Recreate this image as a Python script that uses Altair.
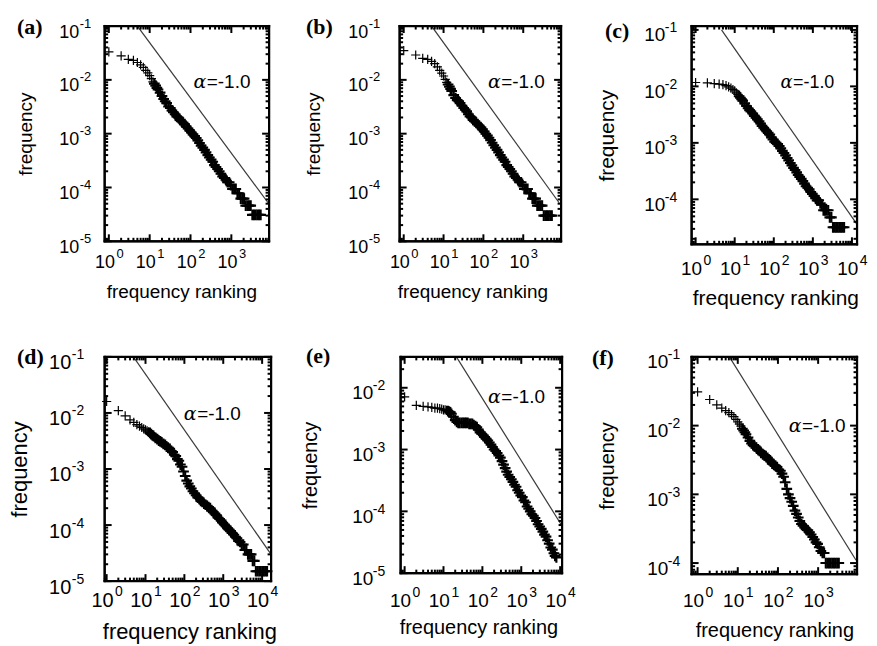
import altair as alt
import pandas as pd

# ---------------- data (rank, relative frequency) ----------------
rank_a = [1, 2, 3, 4, 5, 6, 7, 8, 9, 10, 11, 12, 13, 14,
          15, 16, 18, 20, 22, 24, 26, 29, 32, 35, 38, 42, 46, 50, 55, 60, 66, 72, 79, 87, 95,
          105, 115, 126, 138, 151, 166, 182, 200, 220, 240, 265, 290, 320, 350, 385, 420, 460,
          505, 555, 610, 670, 735, 805, 885, 970, 1065, 1170, 1285, 1410, 1550, 1700, 1870,
          2050, 2250, 2470, 2710, 2980, 3270, 3590, 3940, 4330, 4750, 5220]
freq_a = [0.033, 0.028, 0.024, 0.023, 0.021, 0.019, 0.017, 0.015, 0.0135, 0.012, 0.0105, 0.0092, 0.0085, 0.0078,
          0.0071, 0.0066, 0.0058, 0.005, 0.0044, 0.004, 0.0037, 0.0032, 0.003, 0.0027, 0.0025, 0.0023, 0.0021, 0.002,
          0.0018, 0.0017, 0.0016, 0.0015, 0.00135, 0.00125, 0.00115,
          0.00105, 0.00097, 0.0009, 0.00083, 0.00075, 0.00067, 0.0006, 0.00055, 0.0005, 0.00045, 0.0004, 0.00036,
          0.00033, 0.0003, 0.00026, 0.00024, 0.00022,
          0.0002, 0.00018, 0.00016, 0.00015, 0.00014, 0.000125, 0.000125, 0.00011, 0.000094, 0.000094, 0.000094,
          0.000078, 0.000078, 0.000062, 0.000062,
          0.000062, 0.000046, 0.000046, 0.000046, 0.000046, 0.000031, 0.000031, 0.000031, 0.000031, 0.000031,
          0.000031]

rank_b = rank_a
freq_b = [0.035, 0.029, 0.025, 0.024, 0.022, 0.02, 0.0175, 0.015, 0.0133, 0.0118, 0.0102, 0.009, 0.0082, 0.0075,
          0.0068, 0.0062, 0.0052, 0.0046, 0.0042, 0.004, 0.0037, 0.0033, 0.003, 0.0028, 0.0026, 0.0023, 0.0021, 0.002,
          0.0018, 0.0017, 0.0016, 0.0015, 0.0014, 0.0013, 0.0012,
          0.0011, 0.001, 0.00092, 0.00084, 0.00076, 0.00068, 0.00061, 0.00055, 0.0005, 0.00045, 0.0004, 0.00036,
          0.00033, 0.0003, 0.00026, 0.00024, 0.00022,
          0.0002, 0.00018, 0.00016, 0.00015, 0.00014, 0.000125, 0.000125, 0.00011, 0.000094, 0.000094, 0.000094,
          0.000078, 0.000078, 0.000062, 0.000062,
          0.000062, 0.000046, 0.000046, 0.000046, 0.000046, 0.00003, 0.00003, 0.00003, 0.00003, 0.00003,
          0.00003]

rank_c = [1, 2, 3, 4, 5, 6, 7, 8, 9, 10, 11, 12, 13, 14,
          15, 16, 18, 20, 22, 24, 26, 29, 32, 35, 38, 42, 46, 50, 55, 60, 66, 72, 79, 87, 95,
          105, 115, 126, 138, 151, 166, 182, 200, 220, 240, 265, 290, 320, 350, 385, 420, 460,
          505, 555, 610, 670, 735, 805, 885, 970, 1065, 1170, 1285, 1410, 1550, 1700, 1870,
          2050, 2250, 2470, 2710, 2980, 3270, 3590, 3940, 4330, 4750, 5220, 5740, 6300]
freq_c = [0.0117, 0.0115, 0.0112, 0.011, 0.0107, 0.0103, 0.0098, 0.0093, 0.0088, 0.0083, 0.0077, 0.0072, 0.0067, 0.0063,
          0.0059, 0.0056, 0.005, 0.0045, 0.0041, 0.0038, 0.0036, 0.0033, 0.003, 0.0028, 0.0026, 0.0024, 0.0022, 0.002,
          0.00185, 0.00172, 0.0016, 0.0015, 0.0014, 0.00125, 0.00115,
          0.00105, 0.001, 0.00095, 0.00088, 0.0008, 0.00072, 0.00066, 0.0006, 0.00054, 0.00049, 0.00044, 0.0004,
          0.00036, 0.00033, 0.0003, 0.00027, 0.00025,
          0.00023, 0.00021, 0.00019, 0.00017, 0.00016, 0.00015, 0.000135, 0.000125, 0.000115, 0.000105, 0.000096,
          0.000096, 0.000085, 0.00008, 0.000064,
          0.000064, 0.000064, 0.000064, 0.000048, 0.000048, 0.000032, 0.000032, 0.000032, 0.000032, 0.000032,
          0.000032, 0.000032, 0.000032]

rank_d = [1, 2, 3, 4, 5, 6, 7, 8, 9, 10, 11, 12, 13, 14,
          15, 16, 18, 20, 22, 24, 26, 29, 32, 35, 38, 42, 46, 50, 55, 60, 66, 72, 79, 87, 95,
          105, 115, 126, 138, 151, 166, 182, 200, 220, 240, 265, 290, 320, 350, 385, 420, 460,
          505, 555, 610, 670, 735, 805, 885, 970, 1065, 1170, 1285, 1410, 1550, 1700, 1870,
          2050, 2250, 2470, 2710, 2980, 3270, 3590, 3940, 4330, 4750, 5220, 5740, 6300,
          6900, 7600, 8400, 9200, 10100, 11100, 12200, 13400]
freq_d = [0.016, 0.011, 0.0089, 0.0075, 0.0068, 0.0062, 0.0058, 0.0055, 0.0052, 0.005, 0.0048, 0.0046, 0.0044, 0.0042,
          0.004, 0.0039, 0.0036, 0.0034, 0.0032, 0.0031, 0.003, 0.0028, 0.0027, 0.0025, 0.0024, 0.0023, 0.0021, 0.002,
          0.0018, 0.0017, 0.0015, 0.0014, 0.0012, 0.0011, 0.0009,
          0.00075, 0.00062, 0.00055, 0.00049, 0.00045, 0.0004, 0.00037, 0.00034, 0.00031, 0.0003, 0.00027, 0.00026,
          0.00024, 0.00023, 0.00022, 0.00021, 0.0002,
          0.00018, 0.00017, 0.00016, 0.00015, 0.000135, 0.000128, 0.00012, 0.00011, 0.000102, 0.000095, 0.000088,
          0.000083, 0.000078, 0.000072, 0.000067,
          0.000062, 0.000058, 0.000052, 0.00005, 0.000045, 0.000045, 0.000036, 0.000036, 0.00003, 0.00003,
          0.00003, 0.000023, 0.000023,
          0.000015, 0.000015, 0.000015, 0.000015, 0.000015, 0.000015, 0.000015, 0.000015]

rank_e = [1, 2, 3, 4, 5, 6, 7, 8, 9, 10, 11, 12, 13, 14,
          15, 16, 18, 20, 22, 24, 26, 29, 32, 35, 38, 42, 46, 50, 55, 60, 66, 72, 79, 87, 95,
          105, 115, 126, 138, 151, 166, 182, 200, 220, 240, 265, 290, 320, 350, 385, 420, 460,
          505, 555, 610, 670, 735, 805, 885, 970, 1065, 1170, 1285, 1410, 1550, 1700, 1870,
          2050, 2250, 2470, 2710, 2980, 3270, 3590, 3940, 4330, 4750, 5220, 5740, 6300,
          6900, 7400, 8000]
freq_e = [0.0071, 0.0052, 0.005, 0.0049, 0.0048, 0.0047, 0.0047, 0.0046, 0.0045, 0.0044, 0.0044, 0.0043, 0.0042, 0.0041,
          0.004, 0.0038, 0.0034, 0.003, 0.0028, 0.0027, 0.0027, 0.0027, 0.0027, 0.0027, 0.0027, 0.0027, 0.0026, 0.0026,
          0.0026, 0.0025, 0.0024, 0.0023, 0.0021, 0.0019, 0.0018,
          0.0017, 0.0016, 0.0015, 0.0014, 0.0013, 0.0012, 0.0011, 0.001, 0.00095, 0.00088, 0.0008, 0.00074,
          0.00065, 0.00057, 0.0005, 0.00044, 0.00039,
          0.00036, 0.00033, 0.0003, 0.00027, 0.00025, 0.00022, 0.0002, 0.00018, 0.00017, 0.00015, 0.00014,
          0.00012, 0.00011, 0.0001, 0.00009,
          0.000085, 0.000078, 0.00007, 0.000062, 0.000057, 0.000052, 0.000047, 0.000042, 0.000039, 0.000034,
          0.00003, 0.000026, 0.000024,
          0.000021, 0.000019, 0.000018]

rank_f = [1, 2, 3, 4, 5, 6, 7, 8, 9, 10, 11, 12, 13, 14,
          15, 16, 18, 20, 22, 24, 26, 29, 32, 35, 38, 42, 46, 50, 55, 60, 66, 72, 79, 87, 95,
          105, 115, 126, 138, 151, 166, 182, 200, 220, 240, 265, 290, 320, 350, 385, 420, 460,
          505, 555, 610, 670, 735, 805, 885, 970, 1065, 1170, 1285, 1410, 1550, 1700, 1870,
          2050, 2250, 2470, 2710, 2980, 3270]
freq_f = [0.031, 0.024, 0.02, 0.018, 0.0165, 0.0155, 0.0145, 0.0135, 0.0123, 0.0113, 0.0105, 0.0098, 0.009, 0.0085,
          0.008, 0.0075, 0.0067, 0.006, 0.0055, 0.0052, 0.005, 0.0048, 0.0045, 0.0043, 0.004, 0.0038, 0.0037, 0.0036,
          0.0034, 0.0032, 0.003, 0.0028, 0.0027, 0.0026, 0.0025,
          0.0023, 0.0022, 0.002, 0.0018, 0.0015, 0.0012, 0.001, 0.00088, 0.00078, 0.00068, 0.00058, 0.00052,
          0.00046, 0.00041, 0.00037, 0.00035, 0.00033,
          0.00031, 0.0003, 0.00028, 0.00026, 0.00024, 0.00022, 0.0002, 0.00019, 0.00017, 0.00015, 0.00014,
          0.00014, 0.0001, 0.0001, 0.0001,
          0.0001, 0.0001, 0.0001, 0.0001, 0.0001, 0.0001]

# reference line (alpha = -1.0): end points
line_rank = {"a": [5.0, 7943], "b": [5.0, 7943], "c": [4.6, 13500],
             "d": [4.9, 17000], "e": [21.5, 11200], "f": [6.2, 8800]}
line_freq = {"a": [0.1, 5.2e-5], "b": [0.1, 5.2e-5], "c": [0.1, 3.6e-5],
             "d": [0.1, 3.0e-5], "e": [0.0316, 5.8e-5], "f": [0.1, 1.1e-4]}
# annotation anchor (between the alpha and "=-1.0")
text_rank = {"a": 250, "b": 280, "c": 310, "d": 213, "e": 307, "f": 395}
text_freq = {"a": 0.0091, "b": 0.0091, "c": 0.0117, "d": 0.0096, "e": 0.0071, "f": 0.01}
# panel letter anchor (left / baseline), in the panel's own data units
letter_rank = {"a": 0.00563, "b": 0.00352, "c": 0.00479, "d": 0.00494, "e": 0.00291, "f": 0.00235}
letter_freq = {"a": 0.0711, "b": 0.0711, "c": 0.0718, "d": 0.0751, "e": 0.02529, "f": 0.0766}

# axis domains and labelled decades
x_domain = {"a": [0.79, 8400], "b": [0.79, 8900], "c": [0.79, 13500],
            "d": [0.89, 17000], "e": [0.79, 11200], "f": [0.71, 9300]}
y_domain = {"a": [1e-5, 0.1], "b": [1e-5, 0.1], "c": [1.6e-5, 0.117],
            "d": [1e-5, 0.1], "e": [1e-5, 0.0316], "f": [6.9e-5, 0.1]}
x_major = {"a": [1, 10, 100, 1000], "b": [1, 10, 100, 1000], "c": [1, 10, 100, 1000, 10000],
           "d": [1, 10, 100, 1000, 10000], "e": [1, 10, 100, 1000, 10000], "f": [1, 10, 100, 1000]}
y_major = {"a": [1e-5, 1e-4, 1e-3, 1e-2, 1e-1], "b": [1e-5, 1e-4, 1e-3, 1e-2, 1e-1],
           "c": [1e-4, 1e-3, 1e-2, 1e-1], "d": [1e-5, 1e-4, 1e-3, 1e-2, 1e-1],
           "e": [1e-5, 1e-4, 1e-3, 1e-2], "f": [1e-4, 1e-3, 1e-2, 1e-1]}

panel_label = {"a": "(a)", "b": "(b)", "c": "(c)", "d": "(d)", "e": "(e)", "f": "(f)"}
data = {"a": (rank_a, freq_a), "b": (rank_b, freq_b), "c": (rank_c, freq_c),
        "d": (rank_d, freq_d), "e": (rank_e, freq_e), "f": (rank_f, freq_f)}

# layout / style per panel
style = {
    "a": dict(W=165, H=216, fs=18, fst=19, fsx=19, ypb=26, ype=14, xlb=26, ytx=-73, xtx=77, xty=56),
    "b": dict(W=162, H=216, fs=18, fst=19, fsx=19, ypb=32, ype=20, xlb=26, ytx=-80, xtx=73, xty=56),
    "c": dict(W=166, H=219, fs=19, fst=21, fsx=18, ypb=27, ype=15, xlb=30, ytx=-78, xtx=84, xty=60),
    "d": dict(W=167, H=225, fs=20, fst=22, fsx=19, ypb=34, ype=21, xlb=25, ytx=-78, xtx=85, xty=58),
    "e": dict(W=162, H=217, fs=19, fst=20, fsx=19, ypb=28, ype=16, xlb=33, ytx=-84, xtx=78, xty=61),
    "f": dict(W=166, H=218, fs=19, fst=20, fsx=19, ypb=24, ype=12, xlb=32, ytx=-78, xtx=83, xty=63),
}

PLUS = "M-1,0L1,0M0,-1L0,1"
# inward tick glyphs: a segment starting at the frame edge, pointing into the plot
TICK_UP, TICK_DOWN, TICK_RIGHT, TICK_LEFT = "M0,0L0,-2", "M0,0L0,2", "M0,0L2,0", "M0,0L-2,0"
IS_MAJOR = "abs(log(datum.value)/LN10 - round(log(datum.value)/LN10)) < 0.001"
EXP_EXPR = (IS_MAJOR + " ? ['-5','-4','-3','-2','-1','0','1','2','3','4','5']"
            "[round(log(datum.value)/LN10) + 5] : ''")
FONT = "Liberation Sans"
MAJOR_LEN = 7
MINOR_LEN = 3.5


def log_ticks(lo, hi):
    vals = []
    for e in range(-6, 6):
        for k in range(1, 10):
            v = float(f"{k}e{e}")
            if lo <= v <= hi:
                vals.append((v, k == 1))
    return vals


def make_panel(key):
    s = style[key]
    W, H = s["W"], s["H"]
    fs = s["fs"]
    fe = round(fs * 0.72)
    raise_px = round(0.55 * fs)
    ranks, freqs = data[key]
    x0, x1 = x_domain[key]
    y0, y1 = y_domain[key]
    df = pd.DataFrame({"rank": ranks, "freq": freqs})
    xs = alt.Scale(type="log", domain=x_domain[key], nice=False)
    ys = alt.Scale(type="log", domain=y_domain[key], nice=False)

    # tick table built from the tick values of both axes
    rows = []
    for v, major in log_ticks(x0, x1):
        size = (MAJOR_LEN if major else MINOR_LEN) ** 2
        rows.append({"rank": v, "freq": y0, "shape": TICK_UP, "size": size})
        rows.append({"rank": v, "freq": y1, "shape": TICK_DOWN, "size": size})
    for v, major in log_ticks(y0, y1):
        size = (MAJOR_LEN if major else MINOR_LEN) ** 2
        rows.append({"rank": x0, "freq": v, "shape": TICK_RIGHT, "size": size})
        rows.append({"rank": x1, "freq": v, "shape": TICK_LEFT, "size": size})
    tick_df = pd.DataFrame(rows)

    # frame edges as four segments in data units (domain corners)
    edge_df = pd.DataFrame({
        "xa": [x0, x0, x0, x1], "xb": [x1, x1, x0, x1],
        "ya": [y0, y1, y0, y0], "yb": [y0, y1, y1, y1],
    })

    common = dict(domain=False, ticks=False, tickSize=0, grid=False, labelFlush=False,
                  labelOverlap=False, labelFont=FONT, labelColor="black")
    total = 1.112 * fs + 1.5 + 0.556 * fe
    x_base = alt.Axis(orient="bottom", values=x_major[key], labelExpr="'10'", labelFontSize=fs,
                      labelAlign="left", labelOffset=-total / 2, labelBaseline="alphabetic",
                      labelPadding=s["xlb"],
                      title="frequency ranking", titleFont=FONT, titleFontSize=s["fst"],
                      titleFontWeight="normal", titleColor="black",
                      titleX=s["xtx"], titleY=s["xty"], titleBaseline="alphabetic", titleAlign="center",
                      **common)
    x_exp = alt.Axis(orient="bottom", values=x_major[key], labelExpr=EXP_EXPR, labelFontSize=fe,
                     labelAlign="left", labelOffset=-total / 2 + 1.112 * fs + 1.5,
                     labelBaseline="alphabetic", labelPadding=s["xlb"] - raise_px, title=None, **common)
    y_base = alt.Axis(orient="left", values=y_major[key], labelExpr="'10'", labelFontSize=fs,
                      labelAlign="right", labelBaseline="alphabetic", labelOffset=round(0.6 * fs),
                      labelPadding=s["ypb"],
                      title="frequency", titleFont=FONT, titleFontSize=s["fst"],
                      titleFontWeight="normal", titleColor="black", titleAngle=270,
                      titleX=s["ytx"], titleY=H / 2, titleBaseline="alphabetic", titleAlign="center",
                      **common)
    y_exp = alt.Axis(orient="left", values=y_major[key], labelExpr=EXP_EXPR, labelFontSize=fe,
                     labelAlign="right", labelBaseline="alphabetic", labelOffset=round(0.08 * fs),
                     labelPadding=s["ype"], title=None, **common)

    frame = alt.Chart(edge_df).mark_rule(color="black", strokeWidth=2.2, strokeCap="square").encode(
        x=alt.X("xa:Q", scale=xs, axis=None), x2="xb:Q",
        y=alt.Y("ya:Q", scale=ys, axis=None), y2="yb:Q",
    )
    ticks = alt.Chart(tick_df).mark_point(filled=False, color="black", strokeWidth=2,
                                          opacity=1).encode(
        x=alt.X("rank:Q", scale=xs, axis=None),
        y=alt.Y("freq:Q", scale=ys, axis=None),
        shape=alt.Shape("shape:N", scale=None),
        size=alt.Size("size:Q", scale=None),
    )
    pts = alt.Chart(df).mark_point(shape=PLUS, filled=False, color="black", opacity=1).encode(
        x=alt.X("rank:Q", scale=xs, axis=x_base),
        y=alt.Y("freq:Q", scale=ys, axis=y_base),
        size=alt.condition("datum.rank > 12", alt.value(115), alt.value(85)),
        strokeWidth=alt.condition("datum.rank > 12", alt.value(2.1), alt.value(1.2)),
    )
    ldf = pd.DataFrame({"rank": line_rank[key], "freq": line_freq[key]})
    line = alt.Chart(ldf).mark_line(color="#3a3a3a", strokeWidth=1.2, clip=True).encode(
        x=alt.X("rank:Q", scale=xs, axis=x_exp),
        y=alt.Y("freq:Q", scale=ys, axis=y_exp),
    )
    tdf = pd.DataFrame({"rank": [text_rank[key]], "freq": [text_freq[key]],
                        "eq": ["=-1.0"], "al": ["α"]})
    txt = alt.Chart(tdf).mark_text(font=FONT, fontSize=s["fsx"], align="left",
                                   baseline="middle", color="black").encode(
        x=alt.X("rank:Q", scale=xs, axis=None),
        y=alt.Y("freq:Q", scale=ys, axis=None),
        text="eq:N",
    )
    alpha = alt.Chart(tdf).mark_text(font="DejaVu Serif", fontSize=s["fsx"], fontStyle="italic",
                                     align="right", baseline="middle", color="black", dx=-0.5).encode(
        x=alt.X("rank:Q", scale=xs, axis=None),
        y=alt.Y("freq:Q", scale=ys, axis=None),
        text="al:N",
    )
    ltr = pd.DataFrame({"rank": [letter_rank[key]], "freq": [letter_freq[key]], "t": [panel_label[key]]})
    letter = alt.Chart(ltr).mark_text(font="Liberation Serif", fontWeight="bold", fontSize=22,
                                      align="left", baseline="alphabetic", color="black").encode(
        x=alt.X("rank:Q", scale=xs, axis=None),
        y=alt.Y("freq:Q", scale=ys, axis=None),
        text="t:N",
    )
    return alt.layer(pts, line, frame, ticks, txt, alpha, letter).resolve_axis(
        x="independent", y="independent").properties(width=W, height=H)


row1 = alt.hconcat(make_panel("a"), make_panel("b"), make_panel("c"), spacing=131, bounds="flush")
row2 = alt.hconcat(make_panel("d"), make_panel("e"), make_panel("f"), spacing=130, bounds="flush")

chart = alt.vconcat(row1, row2, spacing=34).properties(
    padding={"left": 0, "top": 5, "right": 0, "bottom": 0},
    background="white",
).configure_view(stroke="black", strokeWidth=2)

chart.save("out.html", embed_options={"renderer": "svg", "actions": False})
